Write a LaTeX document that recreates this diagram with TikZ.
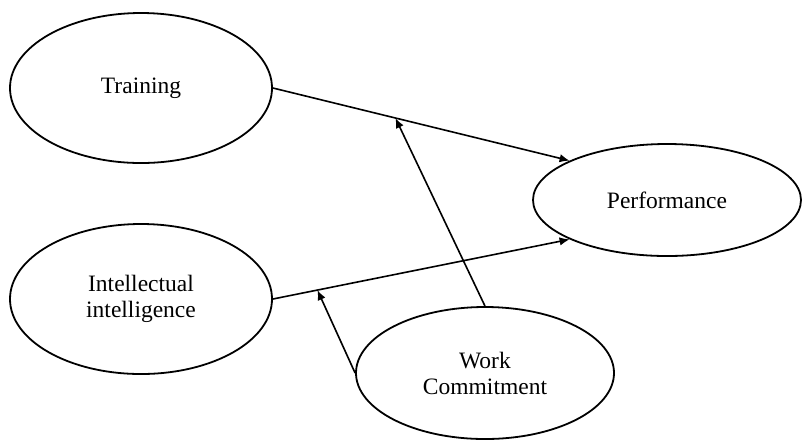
\documentclass[tikz,border=0pt]{standalone}
\usepackage{fontspec}
\setmainfont{Liberation Serif}
\usetikzlibrary{shapes.geometric,arrows.meta}
\begin{document}
\begin{tikzpicture}[x=0.5pt,y=-0.5pt,
  construct/.style={ellipse,draw,line width=0.9pt,inner sep=0pt,
    font=\fontsize{11.75}{13}\selectfont,align=center},
  link/.style={line width=0.8pt,-{Latex[length=5pt,width=4.2pt]}}]
\useasboundingbox (0,0) rectangle (803,441);
\node[construct,minimum width=131pt,minimum height=75pt] (T) at (141,88) {Training};
\node[construct,minimum width=131pt,minimum height=75pt] (I) at (141,299) {Intellectual\\intelligence};
\node[construct,minimum width=134pt,minimum height=56pt] (P) at (667,200) {Performance};
\node[construct,minimum width=129pt,minimum height=66pt] (W) at (485,373) {Work\\Commitment};
\draw[link] (T.east) -- (P.158) coordinate[pos=0.413] (m1);
\draw[link] (I.east) -- (P.202) coordinate[pos=0.15] (m2);
\draw[link] (W.north) -- (m1);
\draw[link] (W.west) -- (m2);
\end{tikzpicture}
\end{document}
